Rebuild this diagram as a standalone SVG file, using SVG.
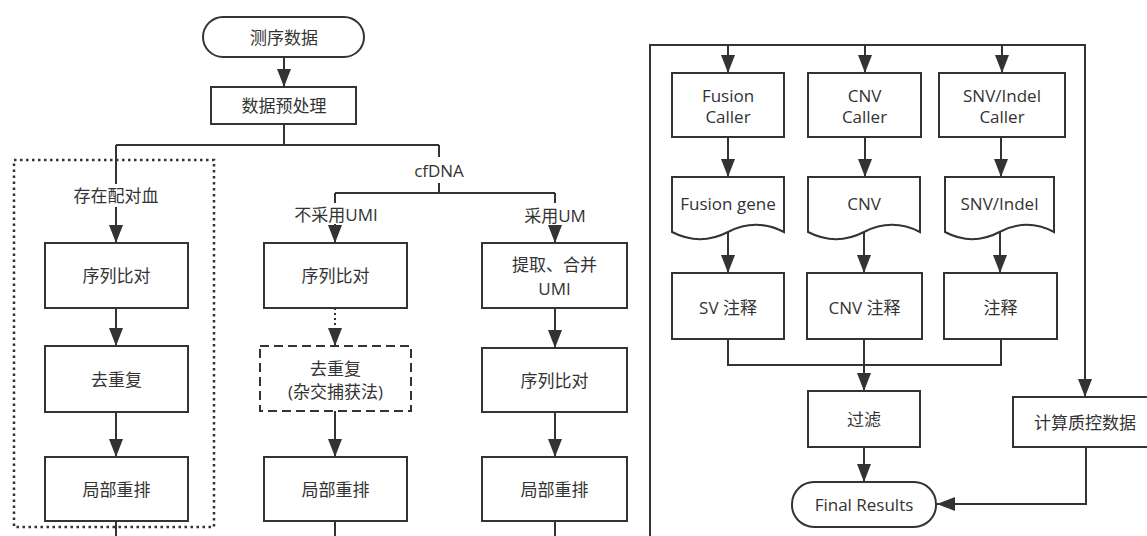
<svg xmlns="http://www.w3.org/2000/svg" width="1147" height="536" viewBox="0 0 1147 536">
<defs>
<marker id="arr" markerUnits="userSpaceOnUse" markerWidth="18" markerHeight="14" viewBox="0 0 18 14" refX="18" refY="7" orient="auto">
<path d="M0,0 L18,7 L0,14 Z" fill="#333"/>
</marker>
<style>
.n{fill:#fff;stroke:#333;stroke-width:2}
.t{font-family:"Open Sans","Noto Sans CJK SC",sans-serif;font-size:17px;fill:#333;text-anchor:middle;dominant-baseline:central}
.c{fill:none;stroke:#333;stroke-width:2}
.a{marker-end:url(#arr)}
</style>
</defs>
<rect x="0" y="0" width="1147" height="536" fill="#fff"/>
<g id="connectors">
<path class="c a" d="M284,57 V87"/>
<path class="c" d="M284,124 V145 M116,145 H439"/>
<path class="c" d="M116,145 V184"/>
<path class="c a" d="M116,207 V243"/>
<path class="c" d="M439,145 V157 M439,183 V193 M335,193 H555 M335,193 V203 M555,193 V203"/>
<path class="c a" d="M335,224 V243"/>
<path class="c a" d="M555,226 V243"/>
<path class="c a" d="M116,308 V346"/>
<path class="c a" d="M116,412 V457"/>
<path class="c" d="M116,521 V536"/>
<path class="c a" d="M335,308 V346" stroke-dasharray="2 3"/>
<path class="c a" d="M335,411 V457"/>
<path class="c" d="M335,521 V536"/>
<path class="c a" d="M555,308 V348"/>
<path class="c a" d="M555,412 V457"/>
<path class="c" d="M555,521 V536"/>
<path class="c" d="M650,536 V45" stroke-width="3"/>
<path class="c a" d="M649,45 H1085 V397"/>
<path class="c a" d="M728,45 V73"/>
<path class="c a" d="M865,45 V73"/>
<path class="c a" d="M1002,45 V73"/>
<path class="c a" d="M728,137 V177"/>
<path class="c a" d="M865,137 V177"/>
<path class="c a" d="M1001,137 V177"/>
<path class="c a" d="M728,232 V273"/>
<path class="c a" d="M864,232 V273"/>
<path class="c a" d="M1000,232 V273"/>
<path class="c" d="M728,339 V365 H1001 V339"/>
<path class="c a" d="M864,339 V391"/>
<path class="c a" d="M864,447 V482"/>
<path class="c a" d="M1086,447 V504 H937"/>
</g>
<g id="group-paired">
<rect x="14" y="160" width="200" height="367" fill="none" stroke="#333" stroke-width="2.5" stroke-dasharray="2.5 3.5"/>
</g>
<g id="label-paired"><text class="t" x="116" y="195" font-size="18">存在配对血</text></g>
<g id="label-cfdna"><text class="t" x="439" y="170" font-size="18">cfDNA</text></g>
<g id="label-noumi"><text class="t" x="336" y="214" font-size="18">不采用UMI</text></g>
<g id="label-umi"><text class="t" x="555" y="215" font-size="18">采用UM</text></g>
<g id="start"><rect class="n" x="203" y="17" width="161" height="40" rx="20"/><text class="t" x="284" y="37">测序数据</text></g>
<g id="preprocess"><rect class="n" x="211" y="87" width="145" height="37"/><text class="t" x="284" y="105.5">数据预处理</text></g>
<g id="l-align"><rect class="n" x="45" y="243" width="143" height="65"/><text class="t" x="116.5" y="275.5">序列比对</text></g>
<g id="l-dedup"><rect class="n" x="45" y="346" width="143" height="66"/><text class="t" x="116.5" y="379">去重复</text></g>
<g id="l-realign"><rect class="n" x="45" y="457" width="143" height="64"/><text class="t" x="116.5" y="489">局部重排</text></g>
<g id="m-align"><rect class="n" x="264" y="243" width="143" height="65"/><text class="t" x="335.5" y="275.5">序列比对</text></g>
<g id="m-dedup"><rect class="n" x="260" y="346" width="151" height="65" stroke-dasharray="9 5"/><text class="t" x="335.5" y="368">去重复</text><text class="t" x="335.5" y="391">(杂交捕获法)</text></g>
<g id="m-realign"><rect class="n" x="264" y="457" width="143" height="64"/><text class="t" x="335.5" y="489">局部重排</text></g>
<g id="r-umi"><rect class="n" x="482" y="243" width="145" height="65"/><text class="t" x="554.5" y="264">提取、合并</text><text class="t" x="554.5" y="288">UMI</text></g>
<g id="r-align"><rect class="n" x="482" y="348" width="145" height="64"/><text class="t" x="554.5" y="380">序列比对</text></g>
<g id="r-realign"><rect class="n" x="482" y="457" width="145" height="64"/><text class="t" x="554.5" y="489">局部重排</text></g>
<g id="fusion-caller"><rect class="n" x="672" y="73" width="112" height="64"/><text class="t" x="728" y="95">Fusion</text><text class="t" x="728" y="116">Caller</text></g>
<g id="cnv-caller"><rect class="n" x="808" y="73" width="113" height="64"/><text class="t" x="864.5" y="95">CNV</text><text class="t" x="864.5" y="116">Caller</text></g>
<g id="snv-caller"><rect class="n" x="939" y="73" width="126" height="64"/><text class="t" x="1002" y="95">SNV/Indel</text><text class="t" x="1002" y="116">Caller</text></g>
<g id="fusion-gene"><path class="n" d="M672,177 H784 V232 Q756,217.6 728,232 Q700,246.4 672,232 Z"/><text class="t" x="728" y="203">Fusion gene</text></g>
<g id="cnv-doc"><path class="n" d="M808,177 H920 V232 Q892,217.6 864,232 Q836,246.4 808,232 Z"/><text class="t" x="864" y="203">CNV</text></g>
<g id="snv-doc"><path class="n" d="M945,177 H1054 V232 Q1026.75,217.6 999.5,232 Q972.25,246.4 945,232 Z"/><text class="t" x="999.5" y="203">SNV/Indel</text></g>
<g id="sv-anno"><rect class="n" x="672" y="273" width="112" height="66"/><text class="t" x="728" y="307">SV 注释</text></g>
<g id="cnv-anno"><rect class="n" x="807" y="273" width="115" height="66"/><text class="t" x="864.5" y="307">CNV 注释</text></g>
<g id="snv-anno"><rect class="n" x="944" y="273" width="113" height="66"/><text class="t" x="1000.5" y="307">注释</text></g>
<g id="filter"><rect class="n" x="808" y="391" width="112" height="56"/><text class="t" x="864" y="419">过滤</text></g>
<g id="qc"><rect class="n" x="1013" y="397" width="150" height="50"/><text class="t" x="1085" y="422">计算质控数据</text></g>
<g id="final"><rect class="n" x="792" y="482" width="144" height="45" rx="22"/><text class="t" x="864" y="504.5">Final Results</text></g>
</svg>
